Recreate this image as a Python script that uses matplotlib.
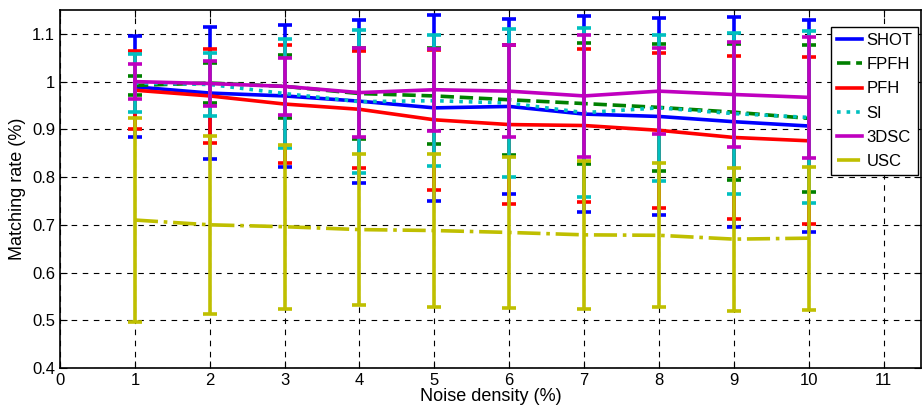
import matplotlib
matplotlib.use("Agg")
import matplotlib.pyplot as plt
from matplotlib.ticker import FormatStrFormatter

noise = [1, 2, 3, 4, 5, 6, 7, 8, 9, 10]

shot_mean = [0.989, 0.976, 0.970, 0.959, 0.945, 0.948, 0.932, 0.927, 0.916, 0.907]
shot_err = [0.106, 0.138, 0.149, 0.171, 0.195, 0.183, 0.206, 0.207, 0.220, 0.223]
fpfh_mean = [0.992, 0.997, 0.990, 0.975, 0.970, 0.962, 0.954, 0.946, 0.936, 0.923]
fpfh_err = [0.020, 0.042, 0.066, 0.095, 0.100, 0.115, 0.126, 0.133, 0.143, 0.154]
pfh_mean = [0.982, 0.970, 0.953, 0.942, 0.920, 0.910, 0.908, 0.898, 0.883, 0.876]
pfh_err = [0.082, 0.099, 0.124, 0.123, 0.147, 0.167, 0.161, 0.162, 0.171, 0.175]
si_mean = [0.997, 0.994, 0.975, 0.958, 0.960, 0.955, 0.935, 0.945, 0.933, 0.925]
si_err = [0.061, 0.066, 0.114, 0.150, 0.137, 0.155, 0.177, 0.153, 0.169, 0.180]
dsc_mean = [1.000, 0.996, 0.990, 0.977, 0.983, 0.980, 0.970, 0.980, 0.973, 0.967]
dsc_err = [0.037, 0.048, 0.060, 0.093, 0.086, 0.097, 0.127, 0.090, 0.109, 0.126]
usc_mean = [0.710, 0.700, 0.696, 0.690, 0.688, 0.684, 0.679, 0.678, 0.670, 0.672]
usc_err = [0.213, 0.187, 0.172, 0.159, 0.161, 0.159, 0.155, 0.151, 0.150, 0.150]

series = [
    ("SHOT", shot_mean, shot_err, (0, 0, 1), "-"),
    ("FPFH", fpfh_mean, fpfh_err, (0, 0.5, 0), "--"),
    ("PFH", pfh_mean, pfh_err, (1, 0, 0), "-"),
    ("SI", si_mean, si_err, (0, 0.75, 0.75), ":"),
    ("3DSC", dsc_mean, dsc_err, (0.75, 0, 0.75), "-"),
    ("USC", usc_mean, usc_err, (0.75, 0.75, 0), "-."),
]

plt.rcParams['font.family'] = ['Liberation Sans', 'DejaVu Sans']

fig = plt.figure(figsize=(9.22, 4.07), dpi=100)
ax = fig.add_axes([0.0651, 0.0958, 0.9338, 0.8796])

for name, mean, err, color, ls in series:
    ax.errorbar(noise, mean, yerr=err, fmt='none', ecolor=color,
                elinewidth=2.6, capsize=5, capthick=2.6, zorder=3)
    ax.plot(noise, mean, color=color, linestyle=ls, linewidth=2.6,
            label=name, zorder=3)

ax.set_xlim(0, 11.5)
ax.set_ylim(0.4, 1.15)
ax.set_xticks(range(0, 12))
ax.set_yticks([0.4, 0.5, 0.6, 0.7, 0.8, 0.9, 1.0, 1.1])
ax.yaxis.set_major_formatter(FormatStrFormatter('%g'))
ax.tick_params(direction='in', top=True, right=True, labelsize=12, length=5)
ax.grid(True, color='black', linestyle=(0, (5, 5)), linewidth=0.8)
ax.set_axisbelow(True)
for s in ax.spines.values():
    s.set_linewidth(1.2)

ax.set_xlabel("Noise density (%)", fontsize=13, labelpad=0)
ax.set_ylabel("Matching rate (%)", fontsize=13, labelpad=4)

leg = ax.legend(loc='upper right', bbox_to_anchor=(0.997, 0.952), borderaxespad=0,
                fontsize=12, fancybox=False, framealpha=1, edgecolor='black',
                handlelength=1.5, handletextpad=0.3, borderpad=0.35,
                labelspacing=0.55)
leg.get_frame().set_linewidth(1.0)

fig.savefig("out.png", dpi=100)
